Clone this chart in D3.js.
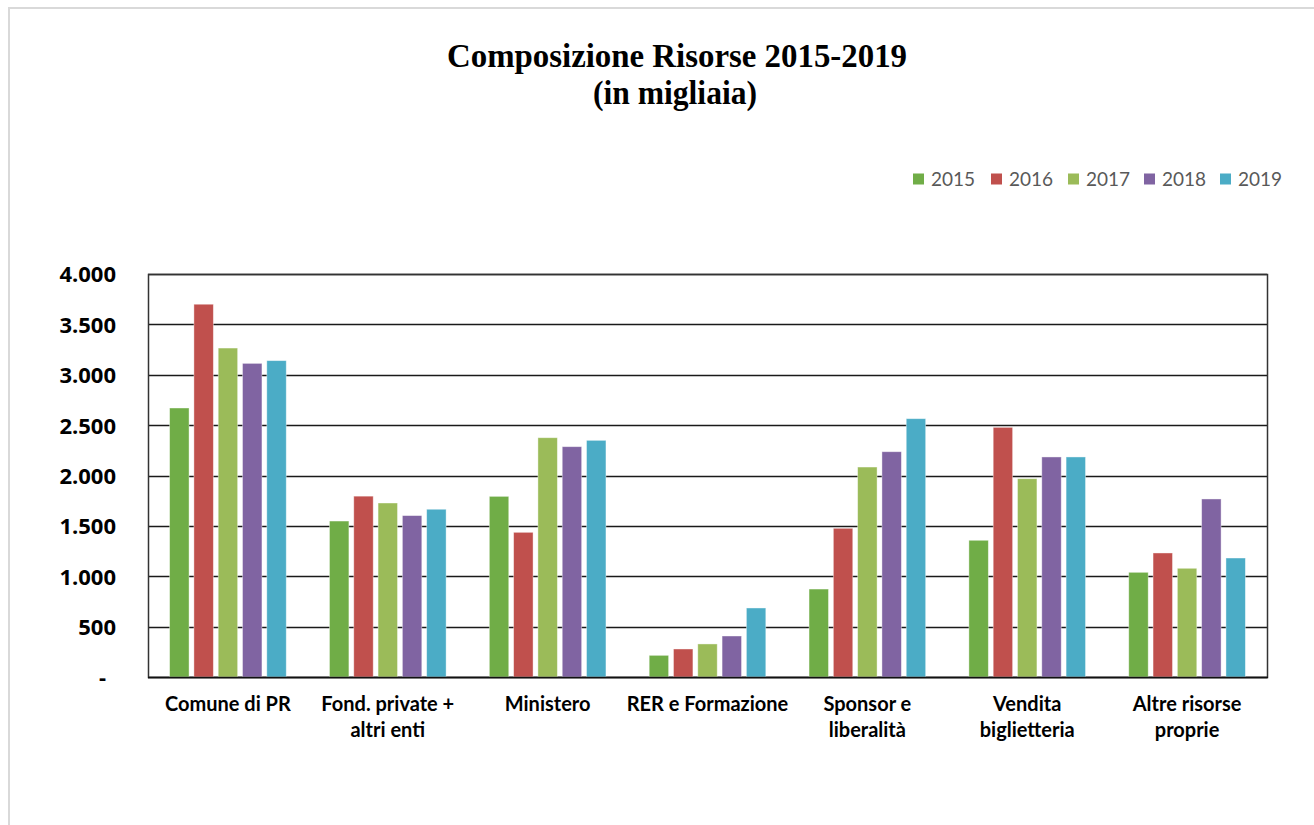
<!DOCTYPE html>
<html>
<head>
<meta charset="utf-8">
<script src="https://cdn.jsdelivr.net/npm/d3@7"></script>
<style>
  html, body { margin: 0; padding: 0; background: #ffffff; }
  svg { display: block; }
</style>
</head>
<body>
<svg id="chart" width="1314" height="825"></svg>
<script>
// Resource categories (x axis)
const categories = [
  "Comune di PR",
  "Fond. private + altri enti",
  "Ministero",
  "RER e Formazione",
  "Sponsor e liberalità",
  "Vendita biglietteria",
  "Altre risorse proprie"
];
// Wrapped category labels as shown under the axis
const categoryLines = [
  ["Comune di PR"],
  ["Fond. private +", "altri enti"],
  ["Ministero"],
  ["RER e Formazione"],
  ["Sponsor e", "liberalità"],
  ["Vendita", "biglietteria"],
  ["Altre risorse", "proprie"]
];
const years = ["2015", "2016", "2017", "2018", "2019"];
// Values in thousands, one array per year, ordered as categories
const v2015 = [2670, 1548, 1793, 215, 873, 1357, 1039];
const v2016 = [3700, 1795, 1436, 278, 1476, 2478, 1231];
const v2017 = [3265, 1727, 2375, 328, 2084, 1968, 1079];
const v2018 = [3113, 1602, 2286, 407, 2236, 2184, 1767];
const v2019 = [3140, 1665, 2349, 685, 2564, 2184, 1181];
const yTicks = [0, 500, 1000, 1500, 2000, 2500, 3000, 3500, 4000];
const colors = ["#70ad47", "#c0504d", "#9bbb59", "#8064a2", "#4bacc6"];

const seriesValues = [v2015, v2016, v2017, v2018, v2019];

const svg = d3.select("#chart");

// Outer chart frame
svg.append("rect")
  .attr("x", 9).attr("y", 8)
  .attr("width", 1320).attr("height", 830)
  .attr("fill", "#ffffff")
  .attr("stroke", "#d9d9d9")
  .attr("stroke-width", 2);

// Title
const title = svg.append("g")
  .attr("font-family", "'Liberation Serif', 'Times New Roman', serif")
  .attr("font-weight", "bold")
  .attr("fill", "#000");
title.append("text")
  .attr("x", 677).attr("y", 67)
  .attr("text-anchor", "middle")
  .attr("font-size", 33)
  .attr("textLength", 460)
  .attr("lengthAdjust", "spacingAndGlyphs")
  .text("Composizione Risorse  2015-2019");
title.append("text")
  .attr("x", 675).attr("y", 104)
  .attr("text-anchor", "middle")
  .attr("font-size", 33)
  .attr("textLength", 164)
  .attr("lengthAdjust", "spacingAndGlyphs")
  .text("(in migliaia)");

// Plot area
const plotLeft = 148, plotRight = 1267, plotTop = 274, plotBottom = 677;

const x0 = d3.scaleBand()
  .domain(categories)
  .range([plotLeft, plotRight])
  .paddingInner(0.24)
  .paddingOuter(0.12);

const x1 = d3.scaleBand()
  .domain(years)
  .range([0, x0.bandwidth()])
  .paddingInner(0.2)
  .paddingOuter(0.1);

const y = d3.scaleLinear()
  .domain([0, 4000])
  .range([plotBottom, plotTop]);

const itLocale = d3.formatLocale({ decimal: ",", thousands: ".", grouping: [3], currency: ["€", ""] });
const fmt = itLocale.format(",.0f");

// Horizontal gridlines
svg.append("g")
  .selectAll("line")
  .data(yTicks)
  .join("line")
  .attr("x1", plotLeft).attr("x2", plotRight)
  .attr("y1", d => Math.round(y(d)) + 0.5)
  .attr("y2", d => Math.round(y(d)) + 0.5)
  .attr("stroke", "#1a1a1a")
  .attr("stroke-width", 1.5);

// Plot border
svg.append("rect")
  .attr("x", plotLeft + 0.5).attr("y", plotTop + 0.5)
  .attr("width", plotRight - plotLeft).attr("height", plotBottom - plotTop)
  .attr("fill", "none")
  .attr("stroke", "#333")
  .attr("stroke-width", 1.5);

// Bars
const groups = svg.append("g")
  .selectAll("g")
  .data(categories)
  .join("g")
  .attr("transform", d => `translate(${x0(d)},0)`);

groups.selectAll("rect")
  .data((c, i) => years.map((yr, k) => ({ year: yr, value: seriesValues[k][i], k })))
  .join("rect")
  .attr("x", d => x1(d.year))
  .attr("y", d => y(d.value))
  .attr("width", x1.bandwidth())
  .attr("height", d => y(0) - y(d.value))
  .attr("fill", d => colors[d.k])
  .attr("stroke", "#ffffff")
  .attr("stroke-opacity", 0.5)
  .attr("stroke-width", 0.8);

// Bottom axis line over bars
svg.append("line")
  .attr("x1", plotLeft).attr("x2", plotRight + 1)
  .attr("y1", plotBottom + 0.5).attr("y2", plotBottom + 0.5)
  .attr("stroke", "#111").attr("stroke-width", 1.5);

// Y axis labels
const yAxis = d3.axisLeft(y)
  .tickValues(yTicks)
  .tickSize(0)
  .tickPadding(0)
  .tickFormat(d => d === 0 ? "-" : fmt(d));

const yG = svg.append("g")
  .attr("transform", `translate(116,0)`)
  .call(yAxis);
yG.select(".domain").remove();
yG.selectAll("text")
  .attr("font-family", "'Open Sans', Lato, sans-serif")
  .attr("font-weight", "bold")
  .attr("font-size", 22)
  .attr("fill", "#000")
  .attr("dy", "0.36em")
  .attr("x", d => d === 0 ? -10 : 0);

// Category labels
const catG = svg.append("g")
  .attr("font-family", "Lato, 'Noto Sans', sans-serif")
  .attr("font-weight", "bold")
  .attr("font-size", 20)
  .attr("fill", "#000")
  .attr("text-anchor", "middle");

catG.selectAll("text")
  .data(categories)
  .join("text")
  .attr("x", d => x0(d) + x0.bandwidth() / 2)
  .attr("y", 711)
  .each(function (d, i) {
    const t = d3.select(this);
    categoryLines[i].forEach((line, j) => {
      t.append("tspan")
        .attr("x", x0(d) + x0.bandwidth() / 2)
        .attr("dy", j === 0 ? 0 : 26)
        .text(line);
    });
  });

// Legend
const legendX = [913, 991, 1068, 1144, 1220];
const legend = svg.append("g")
  .selectAll("g")
  .data(years)
  .join("g")
  .attr("transform", (d, i) => `translate(${legendX[i]},179)`);
legend.append("rect")
  .attr("x", 0).attr("y", -5.5)
  .attr("width", 11).attr("height", 11)
  .attr("fill", (d, i) => colors[i]);
legend.append("text")
  .attr("x", 18).attr("y", 0)
  .attr("dy", "0.36em")
  .attr("font-family", "Lato, 'Noto Sans', sans-serif")
  .attr("font-size", 19)
  .attr("fill", "#595959")
  .text(d => d);
</script>
</body>
</html>
